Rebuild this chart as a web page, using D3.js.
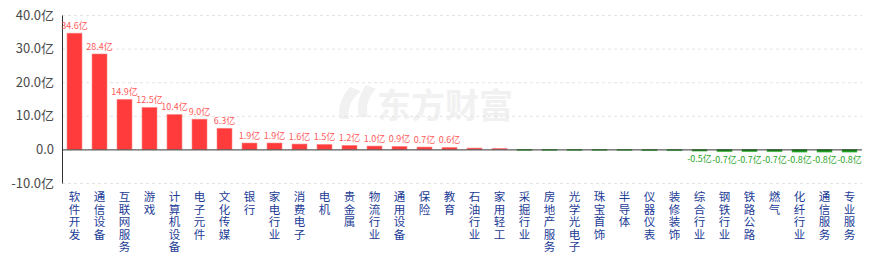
<!DOCTYPE html>
<html>
<head>
<meta charset="utf-8">
<script src="https://d3js.org/d3.v7.min.js"></script>
<style>
body{ margin:0; background:#fff; }
text{ font-family:"Noto Sans CJK SC","Noto Sans",sans-serif; }
</style>
</head>
<body>
<svg class="chart"></svg>
<script>
// industries (categories)
var industries = ["软件开发","通信设备","互联网服务","游戏","计算机设备","电子元件","文化传媒","银行",
  "家电行业","消费电子","电机","贵金属","物流行业","通用设备","保险","教育","石油行业","家用轻工",
  "采掘行业","房地产服务","光学光电子","珠宝首饰","半导体","仪器仪表","装修装饰","综合行业",
  "钢铁行业","铁路公路","燃气","化纤行业","通信服务","专业服务"];
// net inflow, 亿
var flows = [34.6,28.4,14.9,12.5,10.4,9.0,6.3,1.9,1.9,1.6,1.5,1.2,1.0,0.9,0.7,0.6,0.4,0.3,
  -0.2,-0.3,-0.3,-0.3,-0.3,-0.4,-0.4,-0.5,-0.7,-0.7,-0.7,-0.8,-0.8,-0.8];
var yTicks = [-10,0,10,20,30,40];

var W = 870, H = 257;
var margin = {top:15, right:8, bottom:74, left:62};
var width = W - margin.left - margin.right;
var height = H - margin.top - margin.bottom;

var svg = d3.select(".chart").attr("width", W).attr("height", H);

// watermark
var wm = svg.append("g").attr("fill", "#f1f1f1");
wm.append("path")
  .attr("d", "M350,87 C342,96 337,107 340,119 L349,119 C347,108 352,98 361,91 Z M366,85 C359,95 356,106 359,117 L368,117 C365,106 369,96 376,89 Z");
wm.append("text").attr("x", 377).attr("y", 118)
  .attr("font-size", 34).attr("font-weight", "bold").text("东方财富");

var chart = svg.append("g").attr("transform", "translate(" + margin.left + "," + margin.top + ")");

var x = d3.scaleBand().domain(industries).range([0, width]).paddingInner(0.4).paddingOuter(0.2);
var y = d3.scaleLinear().domain([-10, 40]).range([height, 0]);

// grid
chart.selectAll(".grid").data(yTicks.filter(function(d){ return d !== 0; }))
  .enter().append("line")
  .attr("x1", 0).attr("x2", width)
  .attr("y1", function(d){ return y(d) + 0.5; }).attr("y2", function(d){ return y(d) + 0.5; })
  .attr("stroke", "#e3e3e3").attr("stroke-dasharray", "3,3");

// y axis labels
var yAxis = d3.axisLeft(y).tickValues(yTicks).tickSize(0).tickPadding(8)
  .tickFormat(function(d){ return d === 0 ? "0.0" : d.toFixed(1) + "亿"; });
var ya = chart.append("g").call(yAxis);
ya.select(".domain").attr("stroke", "#333");
ya.selectAll("text").attr("font-size", 13).attr("fill", "#4a4a4a")
  .style("font-family", "'Noto Sans CJK SC',sans-serif");

// bars
chart.selectAll(".bar").data(flows).enter().append("rect")
  .attr("x", function(d, i){ return x(industries[i]); })
  .attr("width", x.bandwidth())
  .attr("y", function(d){ return d >= 0 ? y(d) : y(0); })
  .attr("height", function(d){ return Math.max(1, Math.abs(y(d) - y(0))); })
  .attr("fill", function(d){ return d >= 0 ? "#ff3b3b" : "#109a10"; })
  .attr("stroke", function(d){ return d >= 0 ? "#ff8a8a" : "#5cbf5c"; })
  .attr("stroke-width", 0.6);

// zero line
chart.append("line").attr("x1", 0).attr("x2", width)
  .attr("y1", y(0) + 0.5).attr("y2", y(0) + 0.5).attr("stroke", "#333");

// value labels (only |v| >= 0.5 shown)
var shown = flows.map(function(d, i){ return {v:d, c:industries[i]}; })
  .filter(function(d){ return Math.abs(d.v) >= 0.5; });
chart.selectAll(".val").data(shown).enter().append("text")
  .attr("x", function(d){ return x(d.c) + x.bandwidth() / 2; })
  .attr("y", function(d){ return d.v >= 0 ? y(d.v) - 4 : y(d.v) + 11; })
  .attr("text-anchor", "middle")
  .attr("font-size", 9)
  .attr("fill", function(d){ return d.v >= 0 ? "#ff5a5a" : "#2aa52a"; })
  .text(function(d){ return d.v.toFixed(1) + "亿"; });

// vertical category labels
var xl = chart.selectAll(".xl").data(industries).enter().append("text")
  .attr("font-size", 11.5).attr("fill", "#1c3c96").attr("text-anchor", "middle");
xl.each(function(d){
  var t = d3.select(this);
  var cx = x(d) + x.bandwidth() / 2;
  d.split("").forEach(function(c, j){
    t.append("tspan").attr("x", cx).attr("y", height + 18 + j * 12.5).text(c);
  });
});
</script>
</body>
</html>
